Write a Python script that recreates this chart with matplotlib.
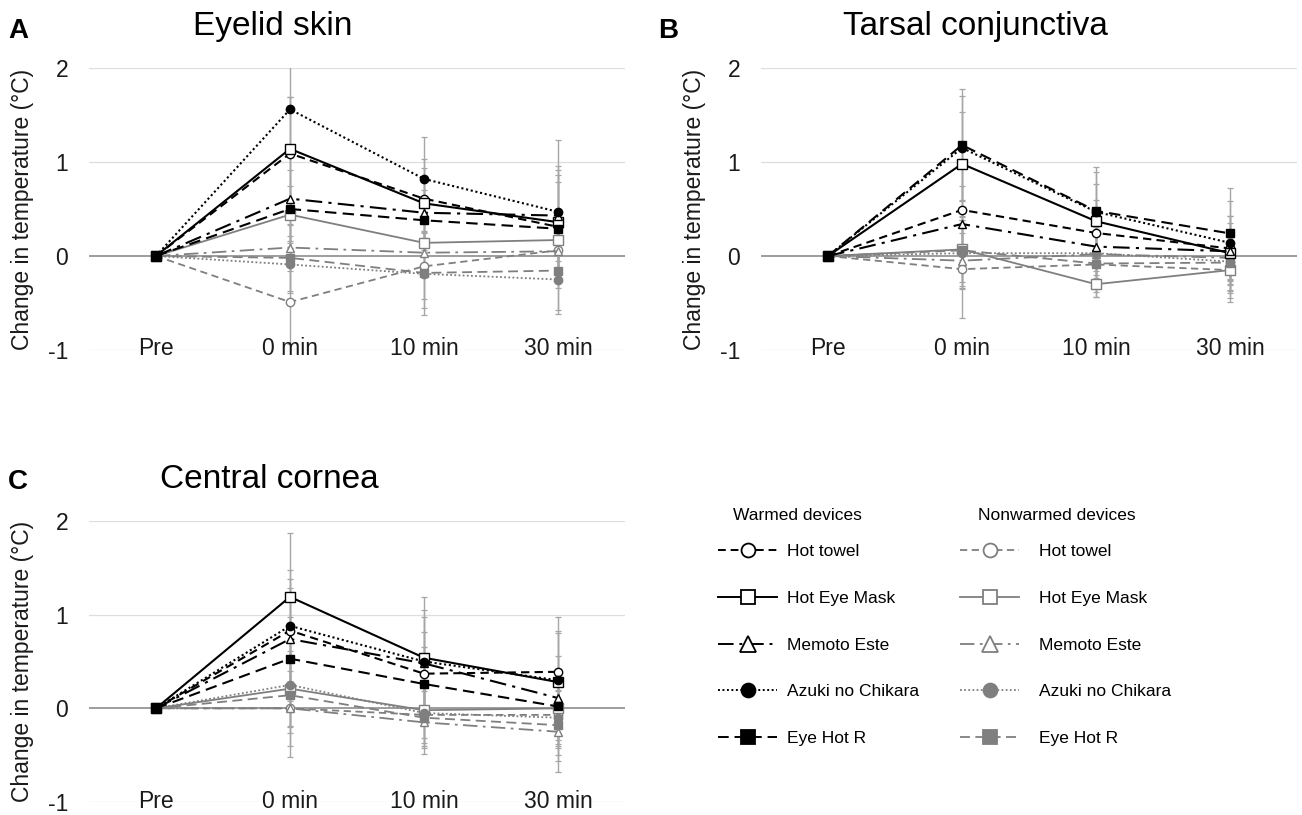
import matplotlib
matplotlib.use("Agg")
import matplotlib.pyplot as plt
from matplotlib.lines import Line2D
import numpy as np

plt.rcParams['font.family'] = ['Liberation Sans', 'DejaVu Sans']

# ---------------- data ----------------
categories = ["Pre", "0 min", "10 min", "30 min"]
devices = ["Hot towel", "Hot Eye Mask", "Memoto Este", "Azuki no Chikara", "Eye Hot R"]
panel_titles = ["Eyelid skin", "Tarsal conjunctiva", "Central cornea"]
panel_letters = ["A", "B", "C"]

# Panel A: Eyelid skin (mean change, °C)
eyelid_warm = [
    [0, 1.09, 0.61, 0.31],   # Hot towel
    [0, 1.14, 0.56, 0.36],   # Hot Eye Mask
    [0, 0.61, 0.46, 0.43],   # Memoto Este
    [0, 1.56, 0.82, 0.47],   # Azuki no Chikara
    [0, 0.50, 0.38, 0.29],   # Eye Hot R
]
eyelid_cold = [
    [0, -0.49, -0.11, 0.06],
    [0, 0.44, 0.14, 0.17],
    [0, 0.09, 0.035, 0.05],
    [0, -0.09, -0.19, -0.25],
    [0, -0.02, -0.18, -0.155],
]
eyelid_warm_sd = [
    [0, 0.60, 0.42, 0.55],
    [0, 0.55, 0.38, 0.60],
    [0, 0.45, 0.35, 0.48],
    [0, 0.50, 0.45, 0.76],
    [0, 0.42, 0.32, 0.50],
]
eyelid_cold_sd = [
    [0, 0.45, 0.35, 0.40],
    [0, 0.30, 0.25, 0.30],
    [0, 0.25, 0.22, 0.25],
    [0, 0.30, 0.36, 0.37],
    [0, 0.35, 0.45, 0.42],
]

# Panel B: Tarsal conjunctiva
tarsal_warm = [
    [0, 0.49, 0.245, 0.08],
    [0, 0.98, 0.37, 0.03],
    [0, 0.34, 0.10, 0.05],
    [0, 1.15, 0.47, 0.14],
    [0, 1.18, 0.48, 0.24],
]
tarsal_cold = [
    [0, -0.14, -0.09, -0.15],
    [0, 0.07, -0.30, -0.15],
    [0, -0.05, 0.02, -0.02],
    [0, 0.03, 0.03, -0.06],
    [0, 0.06, -0.08, -0.07],
]
tarsal_warm_sd = [
    [0, 0.45, 0.35, 0.35],
    [0, 0.55, 0.40, 0.40],
    [0, 0.40, 0.30, 0.30],
    [0, 0.55, 0.42, 0.45],
    [0, 0.60, 0.47, 0.48],
]
tarsal_cold_sd = [
    [0, 0.52, 0.35, 0.30],
    [0, 0.35, 0.14, 0.34],
    [0, 0.30, 0.25, 0.28],
    [0, 0.35, 0.28, 0.30],
    [0, 0.40, 0.30, 0.32],
]

# Panel C: Central cornea
cornea_warm = [
    [0, 0.83, 0.37, 0.39],
    [0, 1.19, 0.54, 0.28],
    [0, 0.74, 0.48, 0.11],
    [0, 0.88, 0.50, 0.30],
    [0, 0.53, 0.26, 0.02],
]
cornea_cold = [
    [0, 0.00, -0.07, -0.07],
    [0, 0.21, -0.02, 0.00],
    [0, 0.00, -0.15, -0.25],
    [0, 0.25, -0.05, -0.10],
    [0, 0.14, -0.10, -0.18],
]
cornea_warm_sd = [
    [0, 0.55, 0.45, 0.59],
    [0, 0.68, 0.65, 0.55],
    [0, 0.55, 0.50, 0.45],
    [0, 0.60, 0.55, 0.50],
    [0, 0.45, 0.40, 0.40],
]
cornea_cold_sd = [
    [0, 0.52, 0.30, 0.35],
    [0, 0.40, 0.30, 0.40],
    [0, 0.40, 0.34, 0.43],
    [0, 0.45, 0.35, 0.40],
    [0, 0.40, 0.32, 0.38],
]

# ---------------- styles ----------------
BLACK = "#000000"
GRAY = "#7f7f7f"
ERR = "#a6a6a6"
line_styles = [(0, (4, 2.5)), "-", (0, (8, 3, 1.5, 3)), (0, (1, 1.3)), (0, (5.5, 3))]
markers = ["o", "s", "^", "o", "s"]
filled = [False, False, False, True, True]
msize = [6.0, 6.5, 6.0, 6.0, 6.0]

fig = plt.figure(figsize=(13.02, 8.15), dpi=100)
W, H = 1302.0, 815.0

def px_axes(left, top, right, bottom):
    return fig.add_axes([left / W, 1 - bottom / H, (right - left) / W, (bottom - top) / H])

axA = px_axes(89, 68, 625, 350)
axB = px_axes(761, 68, 1297, 350)
axC = px_axes(89, 521, 625, 802)

panels = [
    (axA, eyelid_warm, eyelid_cold, eyelid_warm_sd, eyelid_cold_sd),
    (axB, tarsal_warm, tarsal_cold, tarsal_warm_sd, tarsal_cold_sd),
    (axC, cornea_warm, cornea_cold, cornea_warm_sd, cornea_cold_sd),
]

x = np.arange(len(categories))
for ax, warm, cold, warm_sd, cold_sd in panels:
    ax.set_xlim(-0.5, 3.5)
    ax.set_ylim(-1, 2)
    for s in ax.spines.values():
        s.set_visible(False)
    for gy in [-1, 1, 2]:
        ax.axhline(gy, color="#dedede", lw=0.9, zorder=0)
    ax.axhline(0, color="#8c8c8c", lw=1.2, zorder=0.5)
    # error bars
    for vals, sds in list(zip(warm, warm_sd)) + list(zip(cold, cold_sd)):
        ax.errorbar(x[1:], np.array(vals)[1:], yerr=np.array(sds)[1:], fmt="none",
                    ecolor=ERR, elinewidth=1.0, capsize=2.5, capthick=0.9, zorder=1)
    # nonwarmed (gray) first, then warmed (black)
    for groupvals, col, lw in [(cold, GRAY, 1.3), (warm, BLACK, 1.5)]:
        for i, vals in enumerate(groupvals):
            ax.plot(x, vals, linestyle=line_styles[i], color=col, lw=lw,
                    marker=markers[i], markersize=msize[i],
                    markerfacecolor=(col if filled[i] else "white"),
                    markeredgecolor=col, markeredgewidth=1.0, zorder=3)
    ax.set_xticks(x)
    ax.set_xticklabels(categories, fontsize=16.5, color="#1a1a1a")
    ax.tick_params(axis="x", length=0, pad=-9)
    ax.set_yticks([-1, 0, 1, 2])
    ax.set_yticklabels(["-1", "0", "1", "2"], fontsize=16.5, color="#1a1a1a")
    ax.tick_params(axis="y", length=0, pad=15)
    ax.set_ylabel("Change in temperature (°C)", fontsize=16.5, color="#1a1a1a", labelpad=10)

# titles and panel letters
fig.text(193 / W, 1 - 35 / H, panel_titles[0], fontsize=24, ha="left", va="baseline")
fig.text(843 / W, 1 - 35 / H, panel_titles[1], fontsize=24, ha="left", va="baseline")
fig.text(160 / W, 1 - 488 / H, panel_titles[2], fontsize=24, ha="left", va="baseline")
fig.text(8 / W, 1 - 38 / H, panel_letters[0], fontsize=20, fontweight="bold", ha="left", va="baseline")
fig.text(658 / W, 1 - 38 / H, panel_letters[1], fontsize=20, fontweight="bold", ha="left", va="baseline")
fig.text(8 / W, 1 - 489 / H, panel_letters[2], fontsize=20, fontweight="bold", ha="left", va="baseline")

# legend
leg_msize = [10, 10.5, 11, 10, 10.5]
def handles(col, lw):
    hs = []
    for i in range(len(devices)):
        hs.append(Line2D([0], [0], linestyle=line_styles[i], color=col, lw=lw,
                         marker=markers[i], markersize=leg_msize[i],
                         markerfacecolor=(col if filled[i] else "white"),
                         markeredgecolor=col, markeredgewidth=1.3))
    return hs

fig.text(733 / W, 1 - 515 / H, "Warmed devices", fontsize=12.5, ha="left", va="center")
fig.text(978 / W, 1 - 515 / H, "Nonwarmed devices", fontsize=12.5, ha="left", va="center")
leg1 = fig.legend(handles(BLACK, 1.4), devices, loc="upper left",
                  bbox_to_anchor=(718 / W, 1 - 544 / H), frameon=False, fontsize=12.5,
                  handlelength=3.4, handletextpad=0.55, labelspacing=1.82,
                  borderpad=0, borderaxespad=0)
leg2 = fig.legend(handles(GRAY, 1.3), devices, loc="upper left",
                  bbox_to_anchor=(960 / W, 1 - 544 / H), frameon=False, fontsize=12.5,
                  handlelength=3.4, handletextpad=1.15, labelspacing=1.82,
                  borderpad=0, borderaxespad=0)

fig.savefig("out.png", dpi=100)
